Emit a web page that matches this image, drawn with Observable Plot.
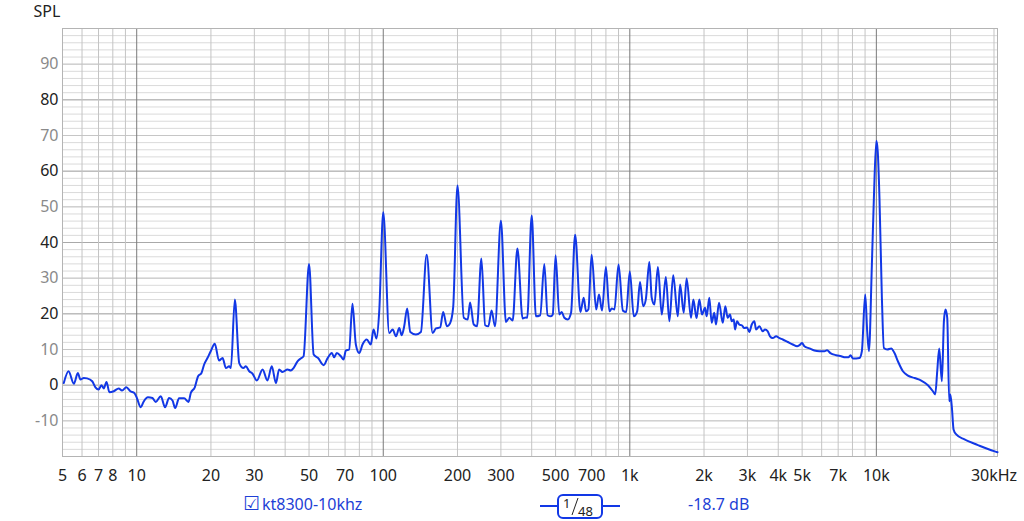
<!DOCTYPE html>
<html>
<head>
<meta charset="utf-8">
<script src="https://cdn.jsdelivr.net/npm/d3@7"></script>
<script src="https://cdn.jsdelivr.net/npm/@observablehq/plot@0.6"></script>
<style>
  html, body { margin: 0; padding: 0; background: #fff; }
  body { width: 1024px; height: 521px; overflow: hidden; font-family: "Noto Sans", "Open Sans", sans-serif; }
  #legend { position: relative; width: 1024px; height: 31px; }
  #legend .t { position: absolute; font-size: 16px; color: #1e3fd6; white-space: nowrap; line-height: 1; }
</style>
</head>
<body>
<div id="chart"></div>
<div id="legend"></div>
<script>
// ---- data: frequency (Hz) and SPL (dB) ----
const freqHz = [
  5.06,5.29,5.56,5.77,5.91,6.10,6.29,6.60,6.80,7.01,7.19,7.35,7.54,7.75,8.07,8.45,8.72,9.08,9.42,9.78,10.03,
  10.38,10.65,11.11,11.58,11.95,12.52,13.03,13.53,13.97,14.32,14.85,15.57,16.22,16.57,17.2,17.74,18.31,18.77,19.36,19.96,20.73,21.57,
  22.3,23.0,23.7,24.1,25,26.05,27.1,27.7,28.6,29.5,30.7,32.4,33.9,35.3,36.7,37.8,39.0,40.9,42.2,43.25,44.9,46.3,47.5,50,
  52.2,54.4,57.3,59.4,61.9,63.2,64.8,67.3,69.0,70.5,72.7,75,77.4,79.9,82.4,85.7,89.0,91.3,93.9,96.3,100,
  105.7,109.2,112.6,116.1,118.8,121.6,125,128.7,135.6,142.1,150,158.6,163.5,170.2,175,181.2,186.7,192.1,200,
  212.1,220.1,225,232.8,240,250,259,266.8,275,283.9,300,314.4,324.3,334.8,350,367.4,379,383.6,400,416,433,450,464,478.5,487,500,517.5,529.5,542.5,560,
  577.7,600,630.5,650,664.5,679,700,730.5,750,771.5,800,826.5,845,866,900,937.5,967,1000,1038,1071,1100,1133,1161,1200,1227,1258,1300,1348,1400,1447,1500,1565,1600,1654,1700,1771,1810,1865,1914,
  1963,2019,2050,2101,2148,2201,2236,2301,2382,2440,2494,2549,2590,2640,2672,2722,2781,2845,2913,2989,3053,3123,3200,3252,3354,3462,3535,3626,3704,3800,3919,4042,4173,4372,4581,4770,4877,4997,5106,5352,5607,5873,6154,6310,6509,6867,
  7200,7473,7706,7852,8029,8283,8539,8734,9011,9180,9330,9590,9772,10000,10130,10295,10530,10730,11066,11484,11846,12230,12815,13427,14283,15205,16186,16958,17330,17656,17984,18443,18792,19077,19384,19750,19955,20254,20563,21086,22783,25820,29990,31000
];
const splDb = [
  0.6,3.9,0.4,3.4,1.6,2.0,1.9,1.1,-0.6,-1.2,0,-0.9,0.9,-2.0,-1.7,-0.9,-1.5,-0.6,-1.7,-2.2,-3.7,
  -6.2,-4.7,-3.4,-3.6,-4.7,-3.1,-6.2,-3.6,-4.3,-6.4,-3.7,-3.7,-4.7,-2.2,-0.6,2.5,3.4,5.8,7.6,9.5,11.6,6.9,
  7.6,4.8,5.3,4.8,24.0,6.2,4.8,5.3,3.9,3.2,1.3,4.4,1.3,5.3,0.6,4.4,3.7,4.4,4.1,4.8,6.7,7.5,8.1,34.0,
  8.6,7.6,5.6,7.5,9.0,7.8,9.0,8.1,7.2,9.7,10.0,22.8,11.4,9.0,11.4,12.8,11.4,15.6,13.1,20.7,48.5,
  14.6,15.6,13.7,16.0,14.0,16.5,21.5,14.9,14.2,14.9,36.6,14.6,15.9,16.2,20.5,16.5,17.4,21.8,56.0,
  18.9,18.4,23.2,17.0,16.5,35.5,16.8,16.5,20.9,16.5,46.1,17.7,18.9,18.1,38.3,18.7,19.0,18.9,47.6,19.3,19.6,34.0,19.6,19.3,19.8,36.4,19.8,20.5,18.9,18.4,
  20.3,42.2,20.5,24.5,20.7,21.2,36.6,21.2,25.4,20.9,33.1,20.7,21.5,21.2,33.8,20.9,20.5,31.9,19.3,20.7,28.9,22.1,24.0,34.5,24.5,22.6,33.1,19.8,30.3,17.9,30.8,19.3,28.2,20.3,29.9,18.9,24.0,18.8,24.0,
  19.8,21.7,19.3,24.5,17.5,20.3,17.0,23.1,17.5,22.1,18.9,19.8,17.9,18.4,15.6,17.9,17.0,16.8,16.0,16.2,14.9,17.0,17.9,15.6,16.5,15.1,15.6,15.1,13.7,13.2,13.7,13.2,12.8,12.1,11.4,10.9,11.2,11.8,10.9,10.3,9.7,9.5,9.5,9.8,9.0,8.4,
  8.1,7.8,7.8,8.4,7.5,7.5,7.6,9.5,25.4,15.1,9.5,33.8,52.5,68.5,65.5,52.5,24.5,10.4,10.0,10.3,9.0,6.7,3.9,2.7,2.0,1.3,0,-1.7,-2.6,3.9,10.3,1.1,17.9,21.2,18.9,-4.5,-2.6,-6.4,-12.4,-13.8,-15.2,-16.8,-18.5,-18.8
];

// ---- axis ticks ----
const xTickValues = [5,6,7,8,10,20,30,50,70,100,200,300,500,700,1000,2000,3000,4000,5000,7000,10000,30000];
const xTickLabels = ["5","6","7","8","10","20","30","50","70","100","200","300","500","700","1k","2k","3k","4k","5k","7k","10k","30kHz"];
const yTickValues = [-10,0,10,20,30,40,50,60,70,80,90];
const xMinorGrid = [6,7,8,9,20,30,40,50,60,70,80,90,200,300,400,500,600,700,800,900,2000,3000,4000,5000,6000,7000,8000,9000,20000,30000];
const xMajorGrid = [10,100,1000,10000];
const yFineGrid = d3.range(-18, 100, 2);

const data = freqHz.map((f, i) => ({f, v: splDb[i]}));
const xTicks = xTickValues.map((v, i) => ({v, label: xTickLabels[i]}));

const chart = Plot.plot({
  width: 1024,
  height: 490,
  marginLeft: 62,
  marginRight: 27,
  marginTop: 28,
  marginBottom: 34,
  style: {fontFamily: "'Noto Sans', 'Open Sans', sans-serif", fontSize: "16px", background: "#fff"},
  x: {type: "log", domain: [5, 31000], axis: null},
  y: {domain: [-20, 100], axis: null},
  marks: [
    Plot.ruleY(yFineGrid, {stroke: "#dadada", strokeWidth: 1}),
    Plot.ruleY(yTickValues.filter(v => v % 20 !== 0), {stroke: "#c6c6c6", strokeWidth: 1}),
    Plot.ruleY(yTickValues.filter(v => v % 20 === 0), {stroke: "#a9a9a9", strokeWidth: 1}),
    Plot.ruleX(xMinorGrid, {stroke: "#c4c4c4", strokeWidth: 1}),
    Plot.ruleX(xMajorGrid, {stroke: "#7a7a7a", strokeWidth: 1}),
    Plot.frame({stroke: "#b4b4b4"}),
    Plot.text(xTicks, {x: "v", text: "label", frameAnchor: "bottom", dy: 13, lineAnchor: "top", fill: "#222", fontSize: 16}),
    Plot.text(yTickValues, {y: d => d, text: d => String(d).replace("-", "-"), frameAnchor: "left", dx: -4, textAnchor: "end", fill: d => d % 20 === 0 ? "#222" : "#8a8a8a", fontSize: 16}),
    Plot.text(["SPL"], {frameAnchor: "top-left", dx: -29, dy: -23, textAnchor: "start", lineAnchor: "top", fill: "#222", fontSize: 16}),
    Plot.line(data, {x: "f", y: "v", stroke: "#1238e6", strokeWidth: 2, strokeLinejoin: "round", curve: "monotone-x"})
  ]
});
document.getElementById("chart").appendChild(chart);

// ---- legend below ----
const legend = document.getElementById("legend");
legend.innerHTML = `
  <div class="t" style="left:243px; top:4px; font-family:'DejaVu Sans'; font-size:19px;">&#9745;</div>
  <div class="t" style="left:262px; top:6px;">kt8300-10khz</div>
  <svg style="position:absolute; left:538px; top:2px;" width="84" height="28">
    <line x1="2" y1="14" x2="20" y2="14" stroke="#1238e6" stroke-width="2"/>
    <line x1="64" y1="14" x2="82" y2="14" stroke="#1238e6" stroke-width="2"/>
    <rect x="20" y="3" width="44" height="23" rx="5" ry="5" fill="#fff" stroke="#1238e6" stroke-width="2"/>
    <text x="25" y="16" font-family="Noto Sans" font-size="13" fill="#222">1</text>
    <line x1="40" y1="6" x2="34" y2="23" stroke="#222" stroke-width="1"/>
    <text x="40" y="24" font-family="Noto Sans" font-size="13" fill="#222">48</text>
  </svg>
  <div class="t" style="left:688px; top:6px;">-18.7 dB</div>
`;
</script>
</body>
</html>
